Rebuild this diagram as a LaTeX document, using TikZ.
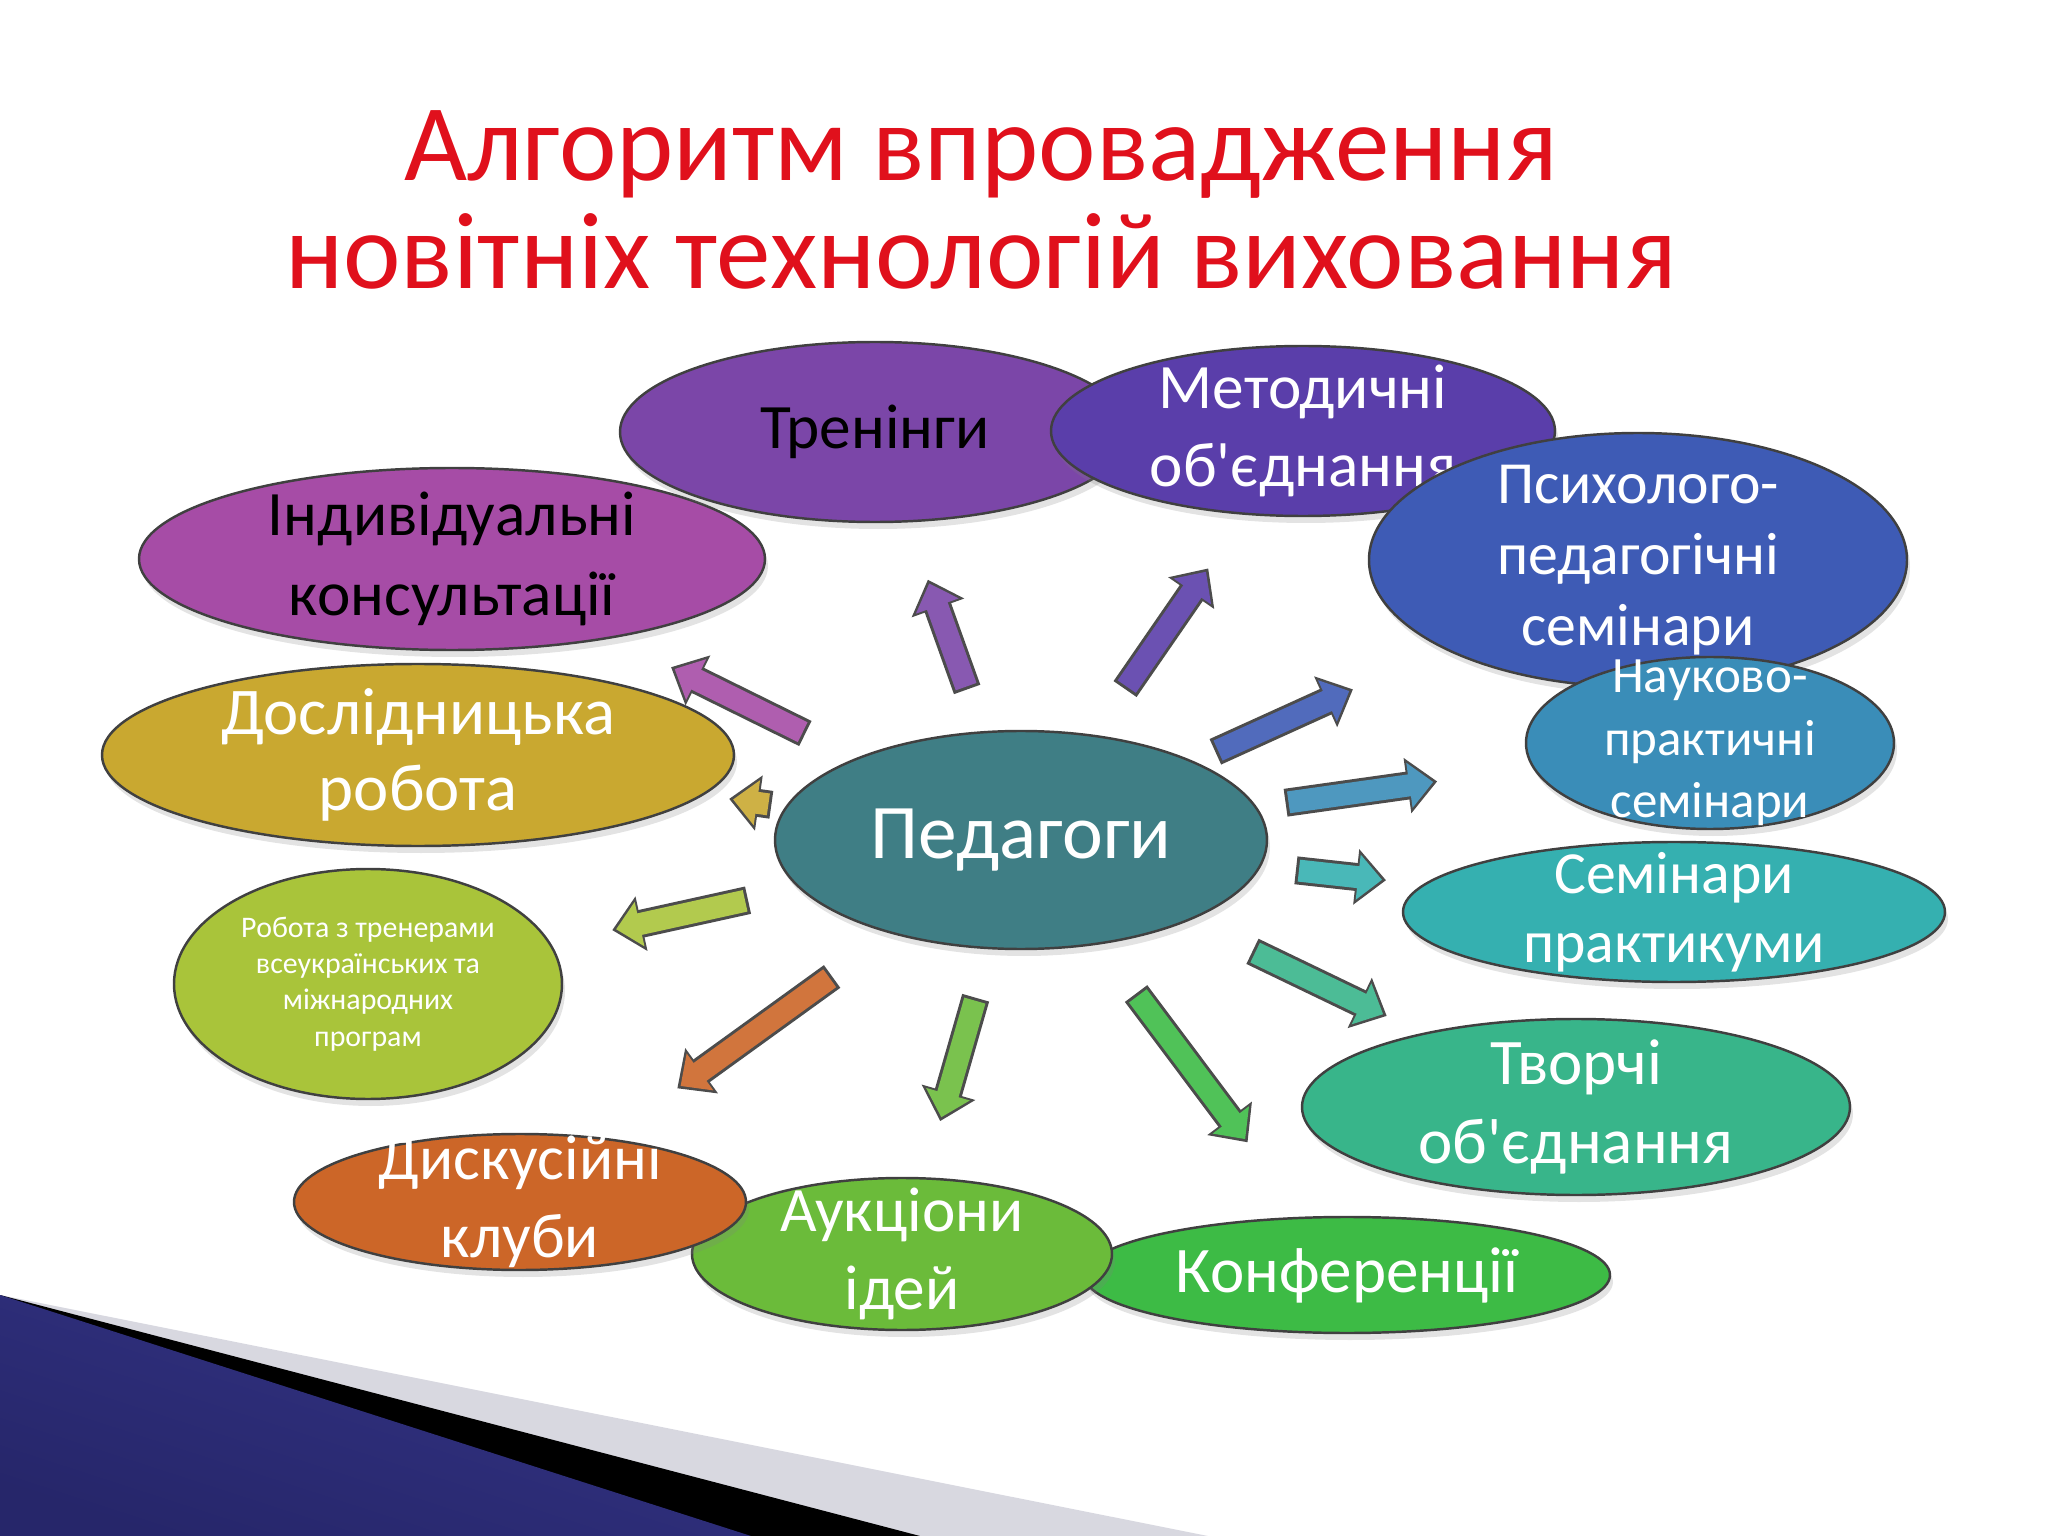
\documentclass[tikz,border=0pt]{standalone}
\usepackage{fontspec}
\setmainfont{Carlito}
\usetikzlibrary{positioning,calc,shapes.geometric,arrows.meta,shadows}
\definecolor{col1}{RGB}{123,70,168}
\definecolor{col2}{RGB}{90,62,170}
\definecolor{col3}{RGB}{62,91,181}
\definecolor{col4}{RGB}{58,141,184}
\definecolor{col5}{RGB}{53,176,176}
\definecolor{col6}{RGB}{56,181,138}
\definecolor{col7}{RGB}{61,187,69}
\definecolor{col8}{RGB}{107,187,58}
\definecolor{col9}{RGB}{204,102,40}
\definecolor{col10}{RGB}{169,196,58}
\definecolor{col11}{RGB}{201,168,48}
\definecolor{col12}{RGB}{166,76,166}
\definecolor{col13}{RGB}{63,126,133}
\definecolor{ttl}{RGB}{224,16,28}
\definecolor{band}{RGB}{216,216,224}
\tikzset{
  bub/.style={ellipse, fill=#1, draw=black!75, line width=0.7pt, inner sep=-2cm,
    align=center, text=white,
    drop shadow={shadow xshift=0.03cm, shadow yshift=-0.07cm, opacity=0.22}},
  blk/.style={draw=#1!90!white, line width=0.22cm, shorten >=0.04cm, shorten <=0.03cm,
    -{Triangle[length=0.24cm, width=0.44cm]},
    preaction={draw=black!70, line width=0.28cm, shorten >=0pt, shorten <=0pt,
      -{Triangle[length=0.30cm, width=0.54cm]}}}
}

\begin{document}
\begin{tikzpicture}
\useasboundingbox (0,0) rectangle (20.48,-15.36);
% slide corner
\fill [band] (0,-12.95) -- (12.08,-15.36) -- (0,-15.36) -- cycle;
\fill [black] (0,-12.95) -- (9.20,-15.36) -- (0,-15.36) -- cycle;
\shade [top color={rgb,255:red,52;green,52;blue,134}, middle color={rgb,255:red,108;green,108;blue,174},
  bottom color={rgb,255:red,38;green,38;blue,106}, shading angle=-18]
  (0,-12.95) -- (7.51,-15.36) -- (0,-15.36) -- cycle;

\node (title) at (9.81,-2.00) [font=\fontsize{31}{30.6}\selectfont, text=ttl, align=center]
  {Алгоритм впровадження\\новітніх технологій виховання};

\node (ind) [bub=col12, text=black, font=\fontsize{18}{22.7}\selectfont,
  minimum width=6.26cm, minimum height=1.82cm] at (4.52,-5.59) {Індивідуальні\\консультації};
\node (dosl) [bub=col11, font=\fontsize{19}{21.6}\selectfont,
  minimum width=6.32cm, minimum height=1.82cm] at (4.18,-7.55) {Дослідницька\\робота};
\node (rob) [bub=col10, font=\fontsize{8.5}{10.3}\selectfont,
  minimum width=3.88cm, minimum height=2.30cm] at (3.68,-9.84)
  {Робота з тренерами\\всеукраїнських та\\міжнародних\\програм};
\node (tr) [bub=col1, text=black, font=\fontsize{18}{22}\selectfont,
  minimum width=5.10cm, minimum height=1.80cm] at (8.75,-4.32) {Тренінги};
\node (met) [bub=col2, font=\fontsize{18}{22.3}\selectfont,
  minimum width=5.04cm, minimum height=1.70cm] at (13.03,-4.31) {Методичні\\об\textquotesingle єднання};
\node (psy) [bub=col3, font=\fontsize{17}{20.3}\selectfont,
  minimum width=5.38cm, minimum height=2.54cm] at (16.38,-5.60) {Психолого-\\педагогічні\\семінари};
\node (nauk) [bub=col4, font=\fontsize{14.5}{17.8}\selectfont,
  minimum width=3.68cm, minimum height=1.72cm] at (17.10,-7.43) {Науково-\\практичні\\семінари};
\node (sem) [bub=col5, font=\fontsize{17}{19.7}\selectfont,
  minimum width=5.42cm, minimum height=1.40cm] at (16.74,-9.12) {Семінари\\практикуми};
\node (tvor) [bub=col6, font=\fontsize{18.5}{22.7}\selectfont,
  minimum width=5.48cm, minimum height=1.76cm] at (15.76,-11.07) {Творчі\\об\textquotesingle єднання};
\node (konf) [bub=col7, font=\fontsize{18.5}{22}\selectfont,
  minimum width=5.26cm, minimum height=1.16cm] at (13.47,-12.75) {Конференції};
\node (auk) [bub=col8, font=\fontsize{18}{22}\selectfont,
  minimum width=4.20cm, minimum height=1.52cm] at (9.02,-12.54) {Аукціони\\ідей};
\node (disk) [bub=col9, font=\fontsize{18}{22.3}\selectfont,
  minimum width=4.52cm, minimum height=1.36cm] at (5.20,-12.02) {Дискусійні\\клуби};
\node (ped) [bub=col13, font=\fontsize{22}{26}\selectfont,
  minimum width=4.92cm, minimum height=2.18cm] at (10.21,-8.40) {Педагоги};

\path
  ($(ped)!0.369!(tr)$) edge [blk=col1] ($(ped)!0.638!(tr)$)
  ($(ped)!0.369!(met)$) edge [blk=col2] ($(ped)!0.664!(met)$)
  ($(ped)!0.315!(psy)$) edge [blk=col3] ($(ped)!0.538!(psy)$)
  ($(ped)!0.384!(nauk)$) edge [blk=col4] ($(ped)!0.604!(nauk)$)
  ($(ped)!0.421!(sem)$) edge [blk=col5] ($(ped)!0.559!(sem)$)
  ($(ped)!0.417!(tvor)$) edge [blk=col6] ($(ped)!0.659!(tvor)$)
  ($(ped)!0.353!(konf)$) edge [blk=col7] ($(ped)!0.695!(konf)$)
  ($(ped)!0.381!(auk)$) edge [blk=col8] ($(ped)!0.679!(auk)$)
  ($(ped)!0.377!(disk)$) edge [blk=col9] ($(ped)!0.686!(disk)$)
  ($(ped)!0.418!(rob)$) edge [blk=col10] ($(ped)!0.626!(rob)$)
  ($(ped)!0.414!(dosl)$) edge [blk=col11] ($(ped)!0.484!(dosl)$)
  ($(ped)!0.379!(ind)$) edge [blk=col12] ($(ped)!0.615!(ind)$);
\end{tikzpicture}
\end{document}
